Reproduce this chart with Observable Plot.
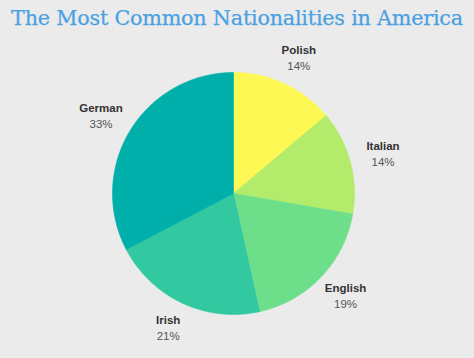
<!DOCTYPE html>
<html>
<head>
<meta charset="utf-8">
<script src="https://cdn.jsdelivr.net/npm/d3@7"></script>
<script src="https://cdn.jsdelivr.net/npm/@observablehq/plot@0.6"></script>
<style>
  html, body { margin: 0; padding: 0; background: #ebebeb; width: 474px; height: 358px; overflow: hidden; }
  #title { height: 36px; line-height: 36px; text-align: center; font-family: "DejaVu Serif", serif; font-size: 20.7px; color: #4aa1e2; white-space: nowrap; letter-spacing: -0.2px; -webkit-text-stroke: 0.25px #4aa1e2; }
  #chart svg { display: block; background: transparent; }
</style>
</head>
<body>
<div id="title">The Most Common Nationalities in America</div>
<div id="chart"></div>
<script>
const categories = ["Polish", "Italian", "English", "Irish", "German"];
const shares = [14, 14, 19, 21, 33];
const colors = ["#fdf853", "#b3ec6a", "#6ddf8b", "#33c9a0", "#00aeaa"];

const W = 474, H = 322, R = 121, cx = 233, cy = 157;

const arcs = d3.pie().sort(null).value(d => d)(shares);

// wedge outlines (unit radius), angles clockwise from 12 o'clock
const wedges = [];
arcs.forEach((a, i) => {
  const cat = categories[i];
  wedges.push({cat, x: 0, y: 0});
  const n = Math.max(2, Math.ceil((a.endAngle - a.startAngle) / 0.01));
  for (let k = 0; k <= n; k++) {
    const t = a.startAngle + (a.endAngle - a.startAngle) * k / n;
    wedges.push({cat, x: Math.sin(t), y: Math.cos(t)});
  }
  wedges.push({cat, x: 0, y: 0});
});

const labelRx = 1.28, labelRy = 1.23;
const labels = arcs.map((a, i) => {
  const m = (a.startAngle + a.endAngle) / 2;
  return {name: categories[i], pct: shares[i] + "%", x: labelRx * Math.sin(m), y: labelRy * Math.cos(m)};
});

const font = "'Liberation Sans', Arial, sans-serif";

const chart = Plot.plot({
  width: W, height: H,
  margin: 0,
  x: {domain: [-cx / R, (W - cx) / R], range: [0, W], axis: null},
  y: {domain: [-(H - cy) / R, cy / R], range: [H, 0], axis: null},
  color: {domain: categories, range: colors},
  style: {background: "transparent"},
  marks: [
    Plot.line(wedges, {x: "x", y: "y", z: "cat", fill: "cat", stroke: "cat", strokeWidth: 0.6, curve: "linear"}),
    Plot.text(labels, {x: "x", y: "y", text: "name", dy: -8, fontSize: 11.5, fontWeight: "bold", fill: "#333", fontFamily: font}),
    Plot.text(labels, {x: "x", y: "y", text: "pct", dy: 8, fontSize: 11.5, fill: "#555", fontFamily: font})
  ]
});
document.getElementById("chart").appendChild(chart);
</script>
</body>
</html>
